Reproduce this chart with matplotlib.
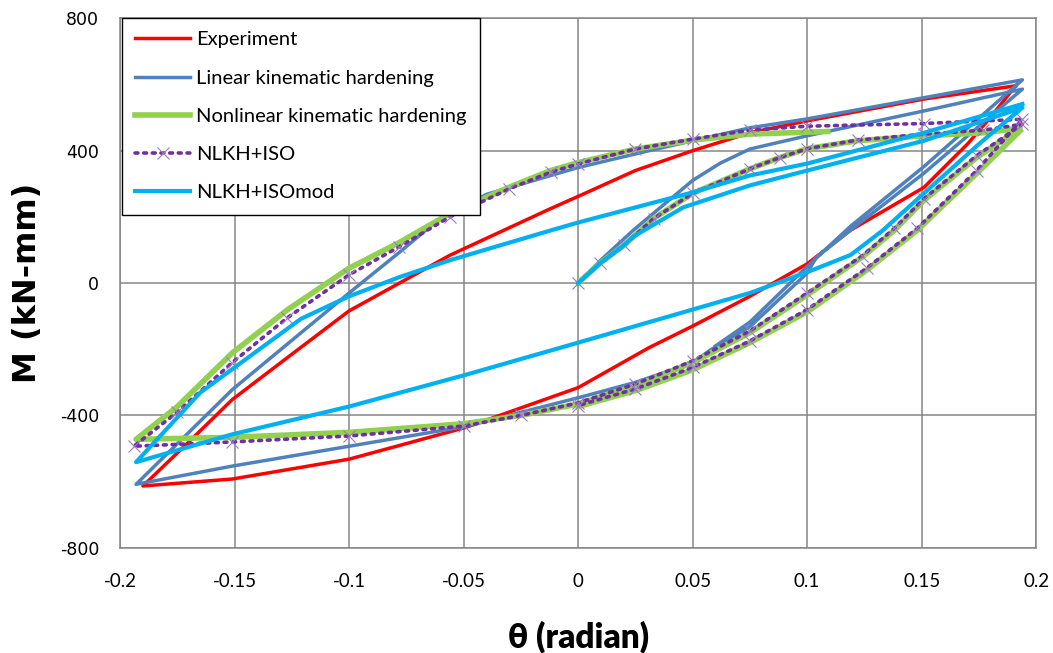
import matplotlib
matplotlib.use("Agg")
import matplotlib.pyplot as plt

# Moment-rotation hysteresis: test vs. four hardening models
theta_exp = [0.191, 0.180, 0.170, 0.151, 0.119, 0.100, 0.075, 0.050, 0.031, 0.000,
             -0.049, -0.100, -0.151, -0.190,
             -0.170, -0.151, -0.125, -0.100, -0.056, -0.012, 0.001, 0.025, 0.050,
             0.075, 0.100, 0.151, 0.191]
m_exp = [596, 500, 420, 289, 160, 58, -40, -130, -195, -316,
         -436, -532, -592, -613,
         -480, -352, -215, -84, 84, 225, 265, 340, 400,
         454, 490, 556, 596]

theta_lkh = [0.000, 0.010, 0.024, 0.050, 0.062, 0.075, 0.100, 0.151, 0.194,
             0.151, 0.119, 0.104, 0.100, 0.075, 0.058, 0.050, 0.025, 0.002,
             -0.049, -0.100, -0.151, -0.193,
             -0.151, -0.100, -0.078, -0.063, -0.056, -0.040, -0.012, 0.000,
             0.031, 0.075, 0.100, 0.151, 0.194,
             0.151, 0.119, 0.100, 0.075, 0.060]
m_lkh = [0, 70, 159, 310, 362, 405, 445, 520, 586,
         332, 160, 78, 30, -132, -201, -241, -300, -343,
         -433, -493, -553, -608,
         -322, -30, 93, 180, 210, 268, 325, 349,
         400, 469, 496, 560, 614,
         352, 172, 50, -118, -190]

theta_nlkh = [0.000, 0.0096, 0.020, 0.033, 0.050, 0.075, 0.088, 0.100, 0.122, 0.151, 0.177, 0.193,
              0.174, 0.151, 0.138, 0.124, 0.100, 0.075, 0.050, 0.025, 0.000,
              -0.025, -0.050, -0.100, -0.151, -0.193,
              -0.175, -0.151, -0.127, -0.100, -0.078, -0.056, -0.030, -0.012, 0.000,
              0.025, 0.050, 0.075, 0.109]
m_nlkh = [0, 60, 114, 195, 271, 345, 379, 406, 430, 445, 454, 468,
          379, 250, 159, 78, -36, -150, -240, -310, -365,
          -400, -425, -451, -466, -472,
          -373, -211, -81, 45, 123, 210, 290, 340, 364,
          405, 432, 450, 458]
# second unloading branch of the nonlinear model
theta_nlkh2 = [0.193, 0.174, 0.148, 0.126, 0.100, 0.075, 0.050, 0.025, 0.000]
m_nlkh2 = [460, 331, 159, 39, -87, -180, -262, -325, -373]

theta_iso = [0.000, 0.0096, 0.020, 0.033, 0.050, 0.075, 0.088, 0.100, 0.122, 0.151, 0.177, 0.194,
             0.174, 0.151, 0.138, 0.124, 0.100, 0.075, 0.050, 0.025, 0.000,
             -0.025, -0.050, -0.100, -0.151, -0.194,
             -0.175, -0.151, -0.127, -0.100, -0.078, -0.056, -0.030, -0.012, 0.000,
             0.025, 0.050, 0.075, 0.100, 0.151, 0.194,
             0.174, 0.148, 0.126, 0.100, 0.075, 0.050, 0.025, 0.000]
m_iso = [0, 60, 114, 195, 271, 345, 379, 406, 432, 450, 462, 480,
         385, 255, 165, 82, -30, -145, -235, -305, -362,
         -400, -432, -462, -480, -493,
         -390, -240, -105, 25, 110, 200, 285, 335, 360,
         405, 435, 462, 474, 482, 495,
         340, 165, 45, -80, -175, -255, -320, -370]

theta_mod = [0.000, 0.0096, 0.020, 0.024, 0.046, 0.075, 0.100, 0.151, 0.194,
             0.175, 0.151, 0.133, 0.119, 0.100, 0.075, 0.050, 0.000,
             -0.049, -0.100, -0.151, -0.193,
             -0.165, -0.121, -0.100, -0.078, -0.056, -0.012, 0.000,
             0.050, 0.075, 0.100, 0.151, 0.194]
m_mod = [0, 60, 114, 140, 229, 295, 340, 430, 530,
         420, 271, 159, 85, 33, -30, -80, -180,
         -277, -373, -457, -541,
         -331, -108, -40, 18, 69, 159, 183,
         274, 325, 361, 454, 541]

labels = ["Experiment", "Linear kinematic hardening", "Nonlinear kinematic hardening",
          "NLKH+ISO", "NLKH+ISOmod"]

fig = plt.figure(figsize=(10.53, 6.53), dpi=100)
ax = fig.add_axes([0.114, 0.161, 0.870, 0.811])

grey = "#868686"
green = "#92D050"
ax.plot(theta_exp, m_exp, color="#FF0000", lw=2.5, label=labels[0], zorder=3)
ax.plot(theta_lkh, m_lkh, color="#4F81BD", lw=2.5, label=labels[1], zorder=4)
ax.plot(theta_nlkh, m_nlkh, color=green, lw=4.0, label=labels[2], zorder=5)
ax.plot(theta_nlkh2, m_nlkh2, color=green, lw=4.0, zorder=5)
ax.plot(theta_iso, m_iso, color="#7030A0", lw=2.6, ls=(0, (0.8, 1.6)),
        dash_capstyle="round", marker="x", ms=9, mew=0.8, mec="#9B7BC4",
        label=labels[3], zorder=6)
ax.plot(theta_mod, m_mod, color="#00B0F0", lw=3.0, label=labels[4], zorder=7)

ax.set_xlim(-0.2, 0.2)
ax.set_ylim(-800, 800)
ax.set_xticks([-0.2, -0.15, -0.1, -0.05, 0, 0.05, 0.1, 0.15, 0.2])
ax.set_xticklabels(["-0.2", "-0.15", "-0.1", "-0.05", "0", "0.05", "0.1", "0.15", "0.2"],
                   family="Lato", fontsize=13.5)
ax.set_yticks([-800, -400, 0, 400, 800])
ax.set_yticklabels(["-800", "-400", "0", "400", "800"], family="DejaVu Sans", fontsize=12.5)
ax.tick_params(length=0)
ax.tick_params(axis="x", pad=18)
ax.tick_params(axis="y", pad=15)
ax.grid(True, color=grey, lw=1.1)
ax.set_axisbelow(True)
for sp in ax.spines.values():
    sp.set_color(grey)
    sp.set_linewidth(1.1)

ax.set_ylabel("M (kN-mm)", family="DejaVu Sans", fontweight="bold", fontsize=23, labelpad=12)
ax.set_xlabel("θ (radian)", family="Lato", fontweight="heavy", fontsize=24, labelpad=22)

leg = ax.legend(loc="upper left", bbox_to_anchor=(0.002, 1.0), borderaxespad=0,
                prop={"family": "Lato", "size": 14.5}, frameon=True, fancybox=False,
                edgecolor="black", framealpha=1, handlelength=2.75, handletextpad=0.3,
                labelspacing=1.05, borderpad=0.65, numpoints=1)
leg.get_frame().set_linewidth(1.0)
leg.set_zorder(10)

fig.savefig("out.png", dpi=100)
